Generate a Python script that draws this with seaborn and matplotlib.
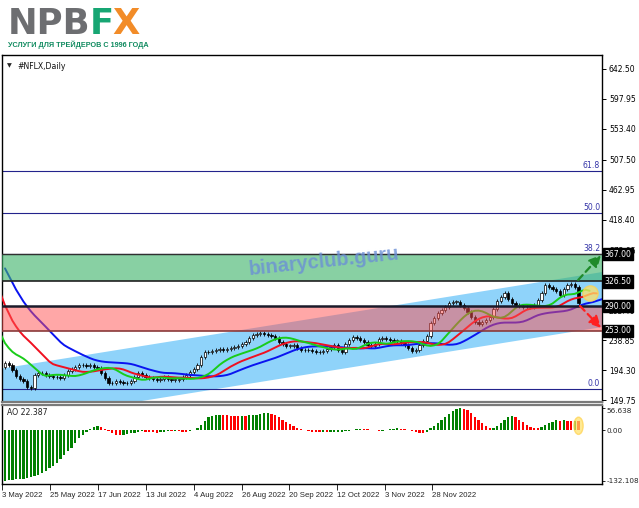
import numpy as np
import matplotlib
matplotlib.use('Agg')
import matplotlib.pyplot as plt
from matplotlib.patches import Polygon, Rectangle, Ellipse
import seaborn as sns

W, H = 639, 508

# daily closes of #NFLX, one per bar
close = [205, 202, 195, 186, 181, 178, 170, 168, 187, 191,
         190, 188, 186, 184, 185, 183, 188, 193, 196, 199,
         202, 203, 201, 202, 200, 198, 190, 183, 176, 175,
         178, 177, 176, 175, 178, 184, 190, 188, 184, 183,
         181, 180, 182, 184, 182, 180, 180, 182, 184, 188,
         192, 197, 203, 214, 221, 222, 223, 224, 226, 225,
         226, 228, 229, 231, 234, 237, 242, 247, 248, 250,
         249, 247, 245, 242, 237, 234, 231, 231, 232, 228,
         225, 224, 224, 223, 222, 221, 223, 226, 229, 232,
         224, 222, 234, 240, 244, 243, 240, 236, 232, 230,
         233, 241, 242, 241, 239, 238, 238, 235, 232, 228,
         223, 224, 232, 238, 246, 265, 272, 279, 284, 289,
         294, 296, 296, 292, 287, 281, 274, 267, 263, 266,
         269, 273, 285, 298, 304, 309, 300, 294, 292, 290,
         288, 288, 288, 292, 299, 310, 321, 318, 316, 312,
         306, 316, 322, 323, 318, 294]
# closes of the bars before the first visible one (feed the shifted alligator)
prior_close = [216, 209, 197, 189, 199, 190, 199, 199]
# alligator values at the start of the data (jaw, teeth, lips)
jaw_seed, teeth_seed, lips_seed = 346, 337, 316

# Awesome Oscillator, one value per bar
ao = [-132.108, -131, -130, -129, -128, -127, -126, -124, -121, -117,
      -113, -107, -100, -93, -85, -75, -65, -56, -48, -35,
      -22, -13, -4, 2, 7, 10, 8, 2, -3, -9,
      -13, -14, -12, -10, -9, -7, -4, -3, -4, -5.5,
      -6.5, -7.5, -6.5, -4, -2, -2.5, -2, -3, -4.5, -5.5,
      -3, 1, 6, 13, 24, 33, 37, 39, 40, 39,
      38, 37.5, 37, 36, 37, 36.5, 38, 39, 40, 41.5,
      43.5, 45, 42.5, 38, 33, 27, 21, 15, 10, 5.5,
      2, -1, -2, -4.5, -5.5, -6.5, -6, -6.5, -6, -5,
      -4.5, -4, -3.5, -3, -1, 2, 3.5, 3, 2, 0,
      -1, -2, -1.5, 0, 2, 3.5, 4, 3.5, 3, 1,
      -2, -5, -7, -8, -6, 4, 11, 19, 27, 35,
      43, 49, 54, 56.638, 55, 51, 44, 35, 26, 17,
      10, 4, 5, 11, 19, 27, 34, 37, 34, 27,
      20, 14, 9, 6, 5, 8, 13, 18, 22, 25,
      24, 25, 23.5, 22.5, 24, 22.387]

date_labels = ['3 May 2022', '25 May 2022', '17 Jun 2022', '13 Jul 2022', '4 Aug 2022',
               '26 Aug 2022', '20 Sep 2022', '12 Oct 2022', '3 Nov 2022', '28 Nov 2022']
date_ticks = [-0.8, 12.2, 25.1, 38.0, 51.0, 64.0, 76.8, 89.7, 102.7, 115.5]

price_ticks = [642.50, 597.95, 553.40, 507.50, 462.95, 418.40, 372.95,
               283.40, 238.85, 194.30, 149.75]
level_prices = [367.00, 326.50, 290.00, 253.00]
fib_low, fib_high = 166.4, 691.5
fib_ratios = [0.0, 0.382, 0.5, 0.618]
fib_names = ['0.0', '38.2', '50.0', '61.8']
channel_x = [-0.81, 161.35]
channel_upper = [197.1, 340.5]
channel_lower = [115.4, 258.7]

sns.set_style('white')
plt.rcParams['font.family'] = ['DejaVu Sans']

fig = plt.figure(figsize=(W / 100, H / 100), dpi=100)
fig.patch.set_facecolor('white')


def fig_box(x0, y0, x1, y1):
    return [x0 / W, 1 - y1 / H, (x1 - x0) / W, (y1 - y0) / H]


ax = fig.add_axes(fig_box(2, 55, 602, 402))
ax2 = fig.add_axes(fig_box(2, 405, 602, 484))
ax2.patch.set_alpha(0)

xlim = (-0.81, 161.35)

# ascending channel (spills into the oscillator pane)
chan = Polygon([(channel_x[0], channel_upper[0]), (channel_x[1], channel_upper[1]),
                (channel_x[1], channel_lower[1]), (channel_x[0], channel_lower[0])],
               closed=True, facecolor='#8fd3fa', edgecolor='none', zorder=0.5)
clip = Rectangle((2 / W, 24 / H), 600 / W, 429 / H, transform=fig.transFigure)
chan.set_clip_path(clip)
ax.add_patch(chan)

# candles
n = len(close)
bars = np.arange(n)
closes = np.array(close, dtype=float)
opens = np.concatenate([[prior_close[-1]], closes[:-1]])
top = np.maximum(opens, closes)
bot = np.minimum(opens, closes)
ax.vlines(bars, bot - 3, top + 3, color='black', lw=0.6, zorder=3)
up = closes >= opens
body = np.clip(top - bot, 0.8, None)
ax.bar(bars[up], body[up], bottom=bot[up], width=0.62, color='white',
       edgecolor='black', linewidth=0.5, zorder=3.1)
ax.bar(bars[~up], body[~up], bottom=bot[~up], width=0.62, color='black',
       edgecolor='black', linewidth=0.5, zorder=3.1)

# alligator (smoothed medians, shifted forward)
med = np.concatenate([prior_close, (opens + closes) / 2])


def smma(values, period, seed):
    out = [seed]
    for v in values[1:]:
        out.append((out[-1] * (period - 1) + v) / period)
    return np.array(out)


k = np.arange(len(med))
sns.lineplot(x=k, y=smma(med, 13, jaw_seed), ax=ax, color='#0a14f0', lw=1.4,
             sort=False, estimator=None, legend=False, zorder=3.5)
sns.lineplot(x=k - 3, y=smma(med, 8, teeth_seed), ax=ax, color='#f01020', lw=1.4,
             sort=False, estimator=None, legend=False, zorder=3.6)
sns.lineplot(x=k - 5, y=smma(med, 5, lips_seed), ax=ax, color='#19cc19', lw=1.4,
             sort=False, estimator=None, legend=False, zorder=3.7)

# fibonacci levels
for r, name in zip(fib_ratios, fib_names):
    lvl = fib_low + r * (fib_high - fib_low)
    ax.axhline(lvl, color='#23238c', lw=0.8, zorder=1.8)
    ax.text(0.997, lvl + 1.5, name, transform=ax.get_yaxis_transform(), ha='right',
            va='bottom', fontsize=5.6, color='#3434a8', zorder=6)

# resistance / support zones
ax.axhspan(level_prices[1], level_prices[0], color='#3fb36b', alpha=0.62, lw=0, zorder=4)
ax.axhspan(level_prices[3], level_prices[2], color='#ff5050', alpha=0.5, lw=0, zorder=4)
ax.axhline(level_prices[0], color='#303030', lw=1.0, zorder=4.5)
ax.axhline(level_prices[1], color='#202020', lw=1.2, zorder=4.5)
ax.axhline(level_prices[2], color='#1a1a2a', lw=1.8, zorder=4.5)
ax.axhline(level_prices[3], color='#8a3a3a', lw=1.2, zorder=4.5)

# forecast arrows and highlight
ax.annotate('', xy=(161.1, 365.9), xytext=(154.9, 328.7),
            arrowprops=dict(arrowstyle='-|>,head_length=0.7,head_width=0.35', color='#1f8a2a',
                            lw=1.6, linestyle=(0, (3, 2)), shrinkA=0, shrinkB=0),
            annotation_clip=False, zorder=12)
ax.annotate('', xy=(161.1, 257.4), xytext=(155.4, 290.1),
            arrowprops=dict(arrowstyle='-|>,head_length=0.7,head_width=0.35', color='#ff2020',
                            lw=1.6, linestyle=(0, (3, 2)), shrinkA=0, shrinkB=0),
            annotation_clip=False, zorder=12)
ax.plot([158.1], [309.4], 'o', ms=11, mfc='#ffe066', mec='#ffd24d', alpha=0.75, zorder=11)

ax.set_xlim(*xlim)
ax.set_ylim(147.3, 663.3)
ax.yaxis.tick_right()
ax.set_yticks(price_ticks)
ax.set_yticklabels([f'{v:.2f}' for v in price_ticks])
ax.tick_params(axis='y', right=True, length=3, width=0.7, pad=2, labelsize=5.5,
               colors='black')
ax.tick_params(axis='x', bottom=False, labelbottom=False)
for s in ['left', 'top', 'right']:
    ax.spines[s].set_color('black')
    ax.spines[s].set_linewidth(1.0)
ax.spines['bottom'].set_color('#7a7a7a')
ax.spines['bottom'].set_linewidth(1.6)

for v in level_prices:
    ax.text(1.004, v, f'{v:.2f}', transform=ax.get_yaxis_transform(), ha='left',
            va='center', fontsize=5.6, color='white', clip_on=False, zorder=20,
            bbox=dict(boxstyle='square,pad=0.2', fc='black', ec='black'))

ax.text(0.009, 0.968, '\u25bc', transform=ax.transAxes, fontsize=4.5, va='center')
ax.text(0.026, 0.968, '#NFLX,Daily', transform=ax.transAxes, fontsize=5.6, va='center',
        color='#101010')

# Awesome Oscillator pane
ao_arr = np.array(ao)
ao_colors = ['#008000' if i == 0 or ao_arr[i] > ao_arr[i - 1] else '#ff0000' for i in range(n)]
ax2.bar(bars, ao_arr, width=0.62, color=ao_colors, lw=0, zorder=3)
ax2.add_patch(Ellipse((155, 11), 2.5, 45, facecolor='#ffe066', edgecolor='#ffd24d',
                      alpha=0.7, zorder=4))
ax2.set_xlim(*xlim)
ax2.set_ylim(-141, 65.3)
ax2.yaxis.tick_right()
ax2.set_yticks([56.638, 0, -132.108])
ax2.set_yticklabels(['56.638', '0.00', '-132.108'])
ylabs = ax2.get_yticklabels()
ylabs[0].set_va('top')
ax2.tick_params(axis='y', right=True, length=2, width=0.7, pad=1.5, labelsize=5.2)
ax2.set_xticks(date_ticks)
ax2.set_xticklabels(date_labels, ha='left', family='Liberation Sans')
ax2.tick_params(axis='x', bottom=True, length=4, width=0.7, pad=2, labelsize=5.6)
for s in ['left', 'right', 'bottom']:
    ax2.spines[s].set_color('black')
    ax2.spines[s].set_linewidth(1.0)
ax2.spines['top'].set_color('#7a7a7a')
ax2.spines['top'].set_linewidth(1.6)
ax2.text(0.009, 0.9, 'AO 22.387', transform=ax2.transAxes, fontsize=5.6, va='center',
         color='#202020')

# watermark
fig.text(324 / W, 1 - 262 / H, 'binaryclub.guru', rotation=6, fontsize=14.4,
         family='Liberation Sans', weight='bold', color='#6b8fd6', alpha=0.8,
         ha='center', va='center', zorder=10)

# logo
fig.canvas.draw()
renderer = fig.canvas.get_renderer()
x = 8
for part, col in [('NPB', '#6d6e71'), ('F', '#17a673'), ('X', '#f28c28')]:
    t = fig.text(x / W, 1 - 34 / H, part, fontsize=25.5, family='DejaVu Sans',
                 weight='bold', color=col, va='baseline')
    x = t.get_window_extent(renderer).x1 - 1
fig.text(8 / W, 1 - 44.5 / H, 'УСЛУГИ ДЛЯ ТРЕЙДЕРОВ С 1996 ГОДА', fontsize=5.2,
         family='Liberation Sans', weight='bold', color='#0f8a5f', va='center')

fig.savefig('out.png', dpi=100)
